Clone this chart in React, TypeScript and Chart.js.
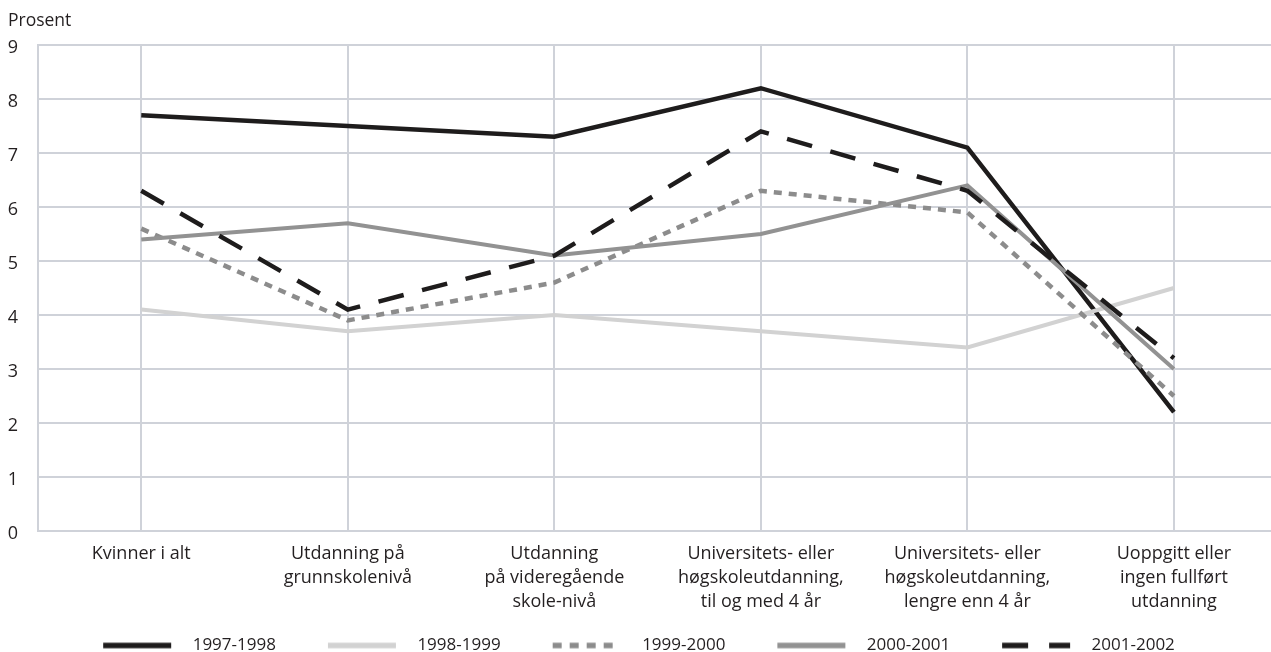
import React, { useEffect, useRef } from "react";
import { Chart, registerables } from "chart.js";

Chart.register(...registerables);

const categories: string[][] = [
  ["Kvinner i alt"],
  ["Utdanning på", "grunnskolenivå"],
  ["Utdanning", "på videregående", "skole-nivå"],
  ["Universitets- eller", "høgskoleutdanning,", "til og med 4 år"],
  ["Universitets- eller", "høgskoleutdanning,", "lengre enn 4 år"],
  ["Uoppgitt eller", "ingen fullført", "utdanning"],
];

const seriesNames = ["1997-1998", "1998-1999", "1999-2000", "2000-2001", "2001-2002"];

const s1997_1998 = [7.7, 7.5, 7.3, 8.2, 7.1, 2.2];
const s1998_1999 = [4.1, 3.7, 4.0, 3.7, 3.4, 4.5];
const s1999_2000 = [5.6, 3.9, 4.6, 6.3, 5.9, 2.5];
const s2000_2001 = [5.4, 5.7, 5.1, 5.5, 6.4, 3.0];
const s2001_2002 = [6.3, 4.1, 5.1, 7.4, 6.3, 3.2];

const yTickValues = [0, 1, 2, 3, 4, 5, 6, 7, 8, 9];
const yAxisTitle = "Prosent";

const seriesValues = [s1997_1998, s1998_1999, s1999_2000, s2000_2001, s2001_2002];
const seriesColors = ["#1e1c1c", "#d2d2d2", "#8c8c8c", "#929292", "#1e1c1c"];
const seriesWidths = [4.5, 4, 4.5, 4, 4.5];
const seriesDash: number[][] = [[], [], [8, 7], [], [26, 19]];
const legendDash: number[][] = [[], [], [9, 8], [], [26, 21]];

const FONT = "'Open Sans', 'Noto Sans', sans-serif";
const TEXT = "#231f20";
const GRID = "#cfd2d9";
const SHIFT = 24;

function makeLegendImage(i: number): HTMLCanvasElement {
  const c = document.createElement("canvas");
  c.width = 112;
  c.height = 8;
  const ctx = c.getContext("2d")!;
  ctx.strokeStyle = seriesColors[i];
  ctx.lineWidth = 5.5;
  ctx.lineCap = "butt";
  ctx.setLineDash(legendDash[i]);
  ctx.beginPath();
  ctx.moveTo(31, 4);
  ctx.lineTo(99, 4);
  ctx.stroke();
  return c;
}

export default function App() {
  const ref = useRef<HTMLCanvasElement | null>(null);

  useEffect(() => {
    if (!ref.current) return;
    const legendImages = seriesNames.map((_, i) => makeLegendImage(i));

    const titlePlugin = {
      id: "prosentTitle",
      afterDraw(chart: any) {
        const ctx = chart.ctx;
        ctx.save();
        ctx.font = `17.5px ${FONT}`;
        ctx.fillStyle = TEXT;
        ctx.textAlign = "left";
        ctx.textBaseline = "alphabetic";
        ctx.fillText(yAxisTitle, 8 + SHIFT, 26);
        ctx.restore();
      },
    };

    const chart = new Chart(ref.current, {
      type: "line",
      data: {
        datasets: seriesNames.map((name, i) => ({
          label: name,
          data: seriesValues[i].map((v, j) => ({ x: j, y: v })),
          borderColor: seriesColors[i],
          backgroundColor: seriesColors[i],
          borderWidth: seriesWidths[i],
          borderDash: seriesDash[i],
          pointRadius: 0,
          pointHoverRadius: 0,
          tension: 0,
          fill: false,
          order: seriesNames.length - i,
        })),
      },
      options: {
        animation: false,
        responsive: true,
        maintainAspectRatio: false,
        layout: { padding: { left: 0, right: 0, top: 45, bottom: 0 } },
        font: { family: FONT },
        color: TEXT,
        plugins: {
          tooltip: { enabled: false },
          legend: {
            position: "bottom",
            labels: {
              usePointStyle: true,
              pointStyleWidth: 112,
              padding: 21,
              color: TEXT,
              font: { family: FONT, size: 17 },
              sort: (a: any, b: any) => a.datasetIndex - b.datasetIndex,
              generateLabels: (c: any) => {
                const items = (Chart as any).defaults.plugins.legend.labels.generateLabels(c);
                items.forEach((it: any) => {
                  it.pointStyle = legendImages[it.datasetIndex];
                });
                return items;
              },
            },
          },
        },
        scales: {
          x: {
            type: "linear",
            min: -0.5,
            max: 5.47,
            afterBuildTicks: (scale: any) => {
              scale.ticks = categories.map((_, i) => ({ value: i }));
            },
            afterFit: (scale: any) => {
              scale.height = 85;
            },
            grid: { color: GRID, lineWidth: 2, drawTicks: false },
            border: { display: false },
            ticks: {
              padding: 11,
              maxRotation: 0,
              autoSkip: false,
              color: TEXT,
              font: { family: FONT, size: 18, lineHeight: 1.33 },
              callback: (v: any) => categories[Number(v)] ?? "",
            },
          },
          y: {
            min: 0,
            max: 9,
            afterBuildTicks: (scale: any) => {
              scale.ticks = yTickValues.map((v) => ({ value: v }));
            },
            afterFit: (scale: any) => {
              scale.width = 38 + SHIFT;
            },
            grid: { color: GRID, lineWidth: 2, drawTicks: false },
            border: { display: true, color: GRID, width: 2 },
            ticks: {
              crossAlign: "near",
              padding: 20,
              labelOffset: 3,
              color: TEXT,
              font: { family: FONT, size: 18 },
              callback: (v: any) => String(v),
            },
          },
        },
      },
      plugins: [titlePlugin],
    } as any);

    return () => chart.destroy();
  }, []);

  return (
    <div
      style={{
        position: "fixed",
        left: 0,
        top: 0,
        width: 1271,
        height: 652,
        overflow: "hidden",
        background: "#fff",
      }}
    >
      <div style={{ position: "relative", marginLeft: -SHIFT, width: 1271 + SHIFT, height: 664 }}>
        <canvas ref={ref} />
      </div>
    </div>
  );
}
